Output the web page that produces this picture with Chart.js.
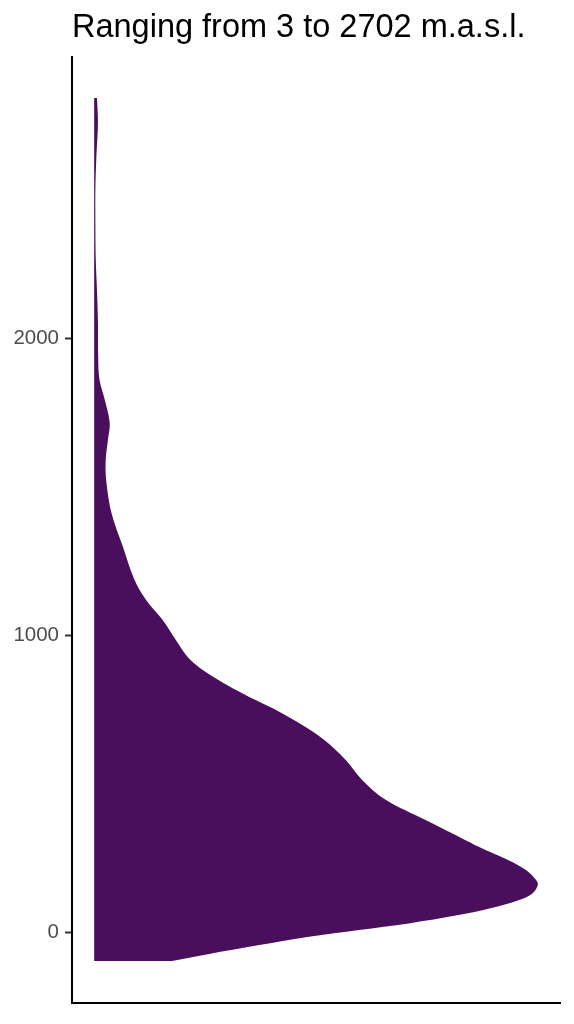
<!DOCTYPE html>
<html>
<head>
<meta charset="utf-8">
<script src="https://cdn.jsdelivr.net/npm/chart.js@4/dist/chart.umd.min.js"></script>
<style>
  html, body { margin:0; padding:0; background:#fff; }
  #wrap { width:574px; height:1024px; }
</style>
</head>
<body>
<div id="wrap"><canvas id="dens-chart" width="574" height="1024"></canvas></div>
<script>
// -------------------- Datos --------------------
const titleText = 'Ranging from 3 to 2702 m.a.s.l.';
// elevación (m) a lo largo del perfil de densidad, de abajo arriba
const elevation = [-97, -73, -43, -15, 8, 30, 58, 81, 109, 131, 159, 176, 209, 243, 277, 311, 378, 446, 513, 580,
  648, 698, 743, 782, 822, 861, 900, 934, 984, 1052, 1119, 1186, 1297, 1412, 1523, 1590, 1658, 1715, 1792, 1860,
  1937, 2052, 2163, 2274, 2388, 2499, 2610, 2725, 2809];
// densidad escalada (máx = 1)
const density = [0.174, 0.259, 0.372, 0.484, 0.597, 0.709, 0.821, 0.893, 0.958, 0.988, 1.0, 0.996, 0.974, 0.934,
  0.882, 0.836, 0.747, 0.657, 0.604, 0.567, 0.518, 0.469, 0.417, 0.364, 0.312, 0.267, 0.230, 0.207, 0.184, 0.154,
  0.117, 0.091, 0.065, 0.039, 0.027, 0.026, 0.031, 0.035, 0.024, 0.012, 0.009, 0.0085, 0.0063, 0.0034, 0.0027,
  0.0027, 0.0049, 0.0085, 0.0063];
const yTicks = [0, 1000, 2000];

const points = elevation.map((e,i)=>({x:density[i], y:e}));
const font = '"Liberation Sans", Arial, sans-serif';

const ctx = document.getElementById('dens-chart').getContext('2d');
new Chart(ctx,{
  type:'line',
  data:{
    datasets:[{
      data:points,
      backgroundColor:'#490F5D',
      borderColor:'#490F5D',
      borderWidth:0,
      pointRadius:0,
      fill:'origin',
      tension:0.35
    }]
  },
  options:{
    responsive:false,
    animation:false,
    indexAxis:'y',
    layout:{ padding:{ top:3, right:14, bottom:21, left:0 } },
    plugins:{
      legend:{ display:false },
      tooltip:{ enabled:false },
      title:{
        display:true, text:titleText, align:'start', fullSize:false,
        color:'#000', font:{ family:font, size:32.5, weight:'normal', lineHeight:1.2 },
        padding:{ top:6, bottom:9 }
      }
    },
    scales:{
      y:{
        type:'linear', min:-238, max:2947,
        afterBuildTicks: s => { s.ticks = yTicks.map(v=>({value:v})); },
        afterFit: s => { s.width = 72; },
        ticks:{ color:'#4D4D4D', padding:6, font:{ family:font, size:20.5 }, callback: v => String(v) },
        grid:{ drawOnChartArea:false, tickLength:7, tickWidth:2, tickColor:'#333' },
        border:{ display:true, color:'#000', width:2 }
      },
      x:{
        type:'linear', min:-0.05, max:1.05,
        ticks:{ display:false },
        grid:{ display:false, drawTicks:false },
        afterFit: s => { s.height = 0; },
        border:{ display:true, color:'#000', width:2 }
      }
    }
  }
});
</script>
</body>
</html>
